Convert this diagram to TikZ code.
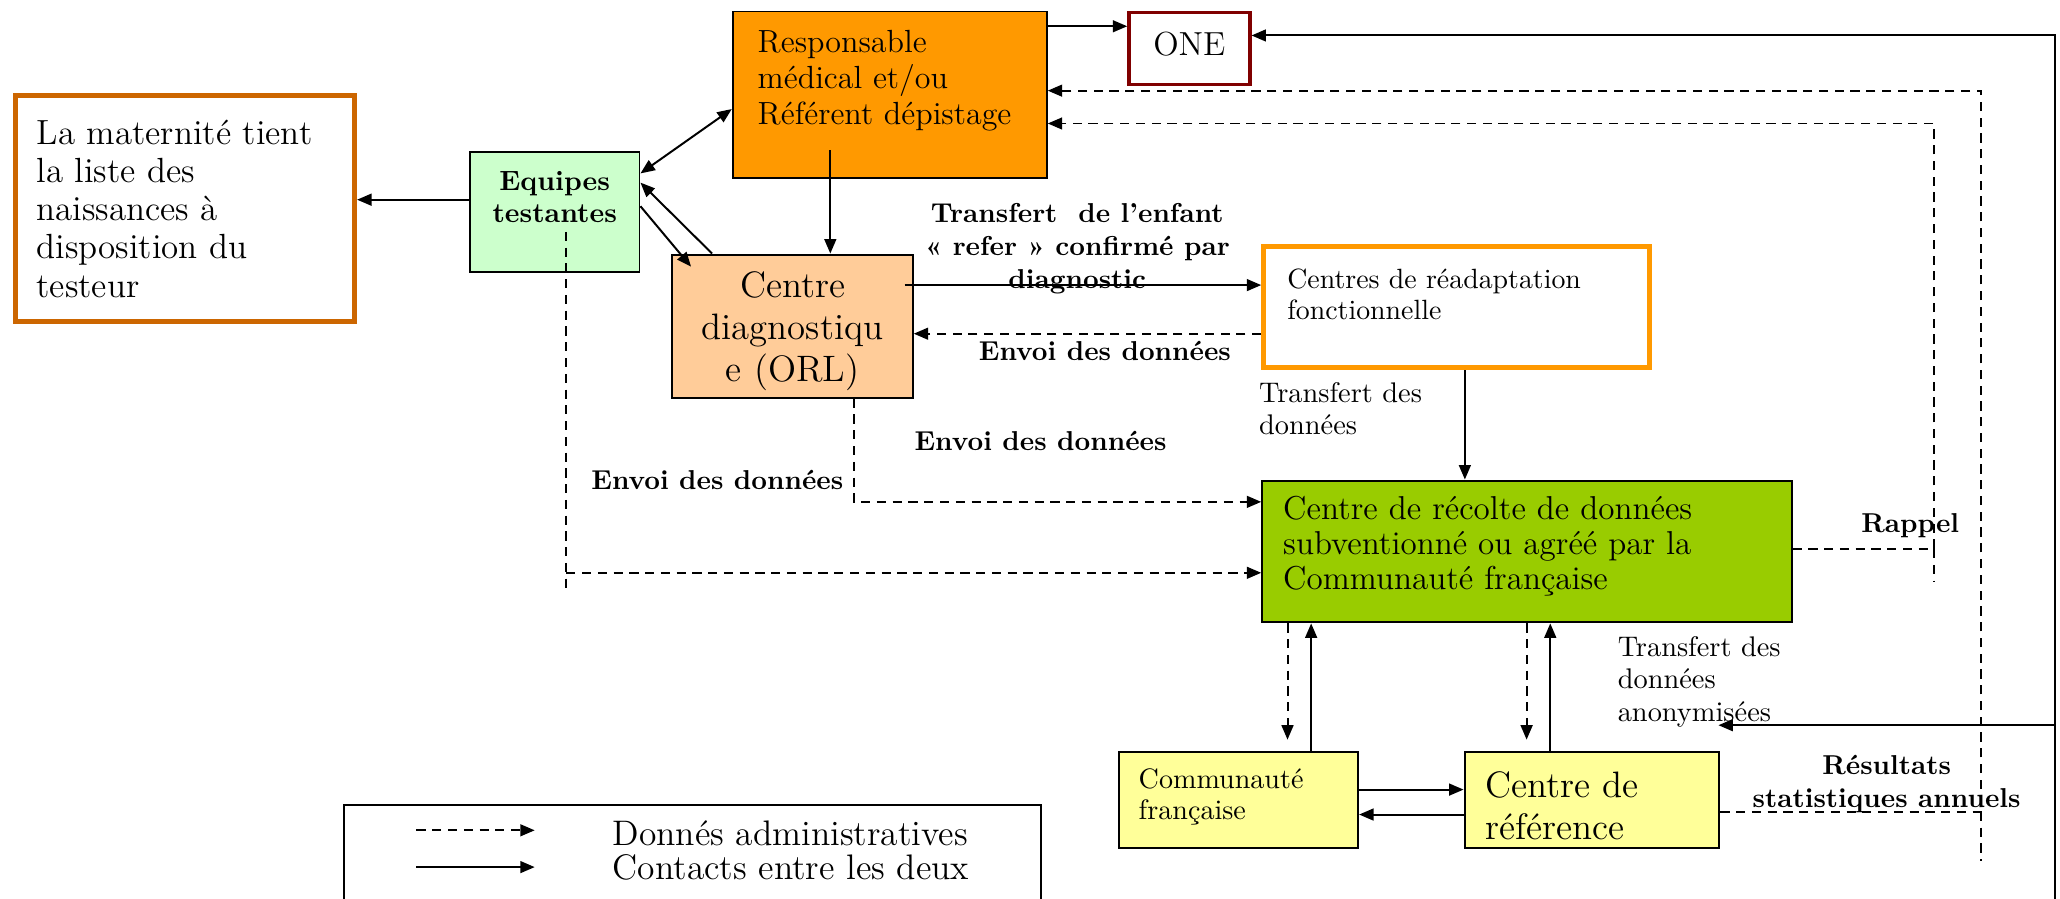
\documentclass[tikz,border=0pt]{standalone}
\usepackage{tikz}
\usetikzlibrary{arrows.meta,positioning}

\definecolor{orangevif}{HTML}{FF9900}
\definecolor{peche}{HTML}{FFCC99}
\definecolor{vertpale}{HTML}{CCFFCC}
\definecolor{vertpomme}{HTML}{99CC00}
\definecolor{jaunepale}{HTML}{FFFF99}
\definecolor{brunmat}{HTML}{CC6600}
\definecolor{rougeone}{HTML}{800000}

\begin{document}
\begin{tikzpicture}[x=0.5pt,y=-0.5pt,
    >={Triangle[length=5.5pt,width=4.5pt]},
    boite/.style={draw,line width=0.75pt,anchor=north west,align=left,inner ysep=0pt},
    lien/.style={->,line width=0.75pt},
    tiret/.style={line width=0.75pt,dash pattern=on 3.5pt off 2.5pt},
    donnee/.style={->,tiret},
    gras/.style={font=\fontsize{10.4}{12.6}\selectfont\bfseries,align=center,inner sep=0pt},
    simple/.style={font=\fontsize{10.8}{12.3}\selectfont,align=left,inner sep=0pt,anchor=west}]
    \useasboundingbox (0,0) rectangle (1568,684);
    %boites
    \node[boite,draw=brunmat,line width=1.9pt,inner xsep=8pt,text width=113pt,minimum height=86pt,
          font=\fontsize{13.3}{14.55}\selectfont] (mat) at (10,71)
          {La maternité tient\\la liste des\\naissances à\\disposition du\\testeur};
    \node[boite,fill=vertpale,align=center,inner xsep=2.25pt,text width=60pt,minimum height=45.5pt,
          text depth=23.5pt,font=\fontsize{10.6}{12}\selectfont\bfseries] (eq) at (357,115)
          {Equipes\\testantes};
    \node[boite,fill=orangevif,inner xsep=9.5pt,text width=100.5pt,minimum height=63.5pt,
          text depth=40.5pt,font=\fontsize{12.2}{13.7}\selectfont] (resp) at (557,8)
          {Responsable\\médical et/ou\\Référent dépistage};
    \node[boite,draw=rougeone,line width=1.3pt,align=center,inner sep=0pt,minimum width=46pt,
          minimum height=27.5pt,text depth=3.5pt,font=\fontsize{12.7}{15}\selectfont] (one) at (858,8) {ONE};
    \node[boite,fill=peche,align=center,inner xsep=1.75pt,text width=88pt,minimum height=54.5pt,
          text depth=32pt,font=\fontsize{14}{16}\selectfont] (diag) at (511,193)
          {Centre\\diagnostiqu\\e (ORL)};
    \node[boite,draw=orangevif,line width=1.9pt,inner xsep=9pt,text width=129pt,minimum height=46pt,
          text depth=21.6pt,font=\fontsize{10.6}{11.6}\selectfont] (rea) at (960,186)
          {Centres de réadaptation\\fonctionnelle};
    \node[boite,fill=vertpomme,inner xsep=8pt,text width=185.5pt,minimum height=54pt,
          text depth=33.3pt,font=\fontsize{12.6}{13.3}\selectfont] (rec) at (960,365)
          {Centre de récolte de données\\subventionné ou agréé par la\\Communauté française};
    \node[boite,fill=jaunepale,inner xsep=7.5pt,text width=76pt,minimum height=36.5pt,
          text depth=16.8pt,font=\fontsize{10.7}{11.8}\selectfont] (cf) at (851,572)
          {Communauté\\française};
    \node[boite,fill=jaunepale,inner xsep=8pt,text width=81pt,minimum height=36.5pt,
          font=\fontsize{14}{16}\selectfont] (cr) at (1114,572)
          {\rule{0pt}{14.2pt}Centre de\\référence};
    %liens
    \path[lien]
     (eq.west |- 0,152) edge (mat.east |- 0,152)
     (eq.east |- 0,132) edge[<->] (resp.west |- 0,83)
     (diag.north -| 542,0) edge (eq.east |- 0,139)
     (eq.east |- 0,157) edge ([shift={(15,10)}]diag.north west)
     (resp.south -| 632,0) ++(0,-22) edge (diag.north -| 632,0)
     (resp.east |- 0,20) edge (one.west |- 0,20)
     (diag.east |- 0,217) ++(-7,0) edge (rea.west |- 0,217)
     (rea.south -| 1115,0) edge (rec.north -| 1115,0)
     (cf.north -| 998,0) edge (rec.south -| 998,0)
     (cr.north -| 1180,0) edge (rec.south -| 1180,0)
     (cf.east |- 0,601) edge (cr.west |- 0,601)
     (cr.west |- 0,620) edge (cf.east |- 0,620);
    \path[donnee]
     (rea.west |- 0,254) edge (diag.east |- 0,254)
     (rec.south -| 980,0) edge[shorten >=4.5pt] (cf.north -| 980,0)
     (rec.south -| 1162,0) edge[shorten >=4.5pt] (cr.north -| 1162,0);
    \draw[donnee] (diag.south -| 650,0) |- (rec.west |- 0,382);
    \draw[tiret] (eq.south -| 431,0) ++(0,-31) -- (431,448);
    \draw[donnee] (431,436) -- (rec.west |- 0,436);
    \draw[donnee] (rec.east |- 0,418) -| (1472,94) -- (resp.east |- 0,94);
    \draw[tiret] (1472,418) -- (1472,443);
    \draw[donnee] (cr.east |- 0,618) -| (1508,69) -- (resp.east |- 0,69);
    \draw[tiret] (1508,618) -- (1508,655);
    \draw[lien] (1564,684) -- (1564,27) -- (one.east |- 0,27);
    \coordinate (anon) at (1308,552);
    \draw[lien] (1564,552) -- (anon);
    %etiquettes
    \node[gras] (ltrans) at (820,189) {Transfert\ \ de l’enfant\\« refer » confirmé par\\diagnostic};
    \node[gras] (lenvoia) at (841,267) {Envoi des données};
    \node[gras] (lenvoib) at (792,336) {Envoi des données};
    \node[gras] (lenvoic) at (546,365) {Envoi des données};
    \node[simple] (ltransdon) at (958,311) {Transfert des\\données};
    \node[gras] (lrappel) at (1454,400) {Rappel};
    \node[gras] (lresult) at (1436,597) {Résultats\\statistiques annuels};
    \node[simple] (lanonym) at (1231,519) {Transfert des\\données\\anonymisées};
    %legende
    \draw[line width=0.75pt] (262,684) |- (792,613) -- (792,684);
    \coordinate (legda) at (317,632);
    \coordinate (legdb) at (407,632);
    \coordinate (legca) at (317,660);
    \coordinate (legcb) at (407,660);
    \draw[donnee] (legda) -- (legdb);
    \draw[lien] (legca) -- (legcb);
    \node[simple,font=\fontsize{13.5}{14}\selectfont] (ladmin) at (466,634) {Donnés administratives};
    \node[simple,font=\fontsize{13.5}{14}\selectfont] (lcontact) at (466,660) {Contacts entre les deux};
\end{tikzpicture}
\end{document}
